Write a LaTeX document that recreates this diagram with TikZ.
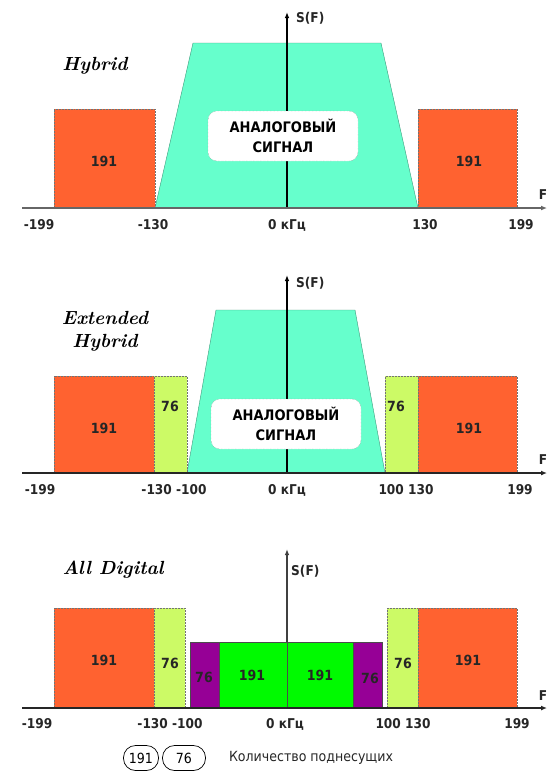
\documentclass[tikz,border=0pt]{standalone}
\usepackage{fontspec}
\newfontfamily\lab{DejaVu Sans}
\newfontfamily\labc{DejaVu Sans Condensed}
\usetikzlibrary{arrows.meta,fit}
\definecolor{orng}{RGB}{255,98,48}
\definecolor{tealc}{RGB}{102,255,204}
\definecolor{ygrn}{RGB}{204,250,102}
\definecolor{grn}{RGB}{0,250,0}
\definecolor{purp}{RGB}{150,0,150}
\tikzset{
  blk/.style={fit={#1}, inner sep=0pt, outer sep=0pt, draw=black!55, densely dotted, line width=0.5pt},
  lbl/.style={font=\labc\bfseries\fontsize{13.5}{15}\selectfont, inner sep=0pt, text=black!85},
  num/.style={font=\labc\bfseries\fontsize{14}{16}\selectfont, inner sep=0pt, text=black!85},
  title/.style={font=\bfseries\itshape\fontsize{19}{23}\selectfont, inner sep=0pt, align=center},
  haxis/.style={line width=1.6pt, -{Latex[length=6pt,width=5pt]}},
  vaxis/.style={line width=1.1pt, -{Latex[length=6pt,width=4.5pt]}},
  analog/.style={draw=black!45, densely dotted, fill=white, rounded corners=9pt, inner sep=0pt,
    minimum width=150pt, minimum height=50pt, align=center,
    font=\labc\bfseries\fontsize{14.5}{20}\selectfont},
  trap/.style={fill=tealc, draw=tealc!60!black, line width=0.4pt},
  leg/.style={draw=black, line width=0.7pt, rounded corners=12pt, inner sep=0pt, minimum height=25pt,
    font=\labc\fontsize{14}{16}\selectfont}
}
\begin{document}
\begin{tikzpicture}[x=1pt,y=-1pt]
\useasboundingbox (0,0) rectangle (547,771);
% ================= Panel 1: Hybrid =================
\node[title] (t1) at (95,66) {Hybrid};
\filldraw[trap] (155,208) -- (193,43) -- (381,43) -- (418,208) -- cycle;
\node[blk={(54,109) (155,208)}, fill=orng] (o1l) {};
\node[blk={(418,109) (517,208)}, fill=orng] (o1r) {};
\coordinate (v1b) at (287,208);
\coordinate (v1t) at (287,12);
\draw[vaxis] (v1b) -- (v1t);
\node[analog] (a1) at (283,136) {АНАЛОГОВЫЙ\\СИГНАЛ};
\coordinate (h1l) at (22,208);
\coordinate (h1r) at (547,208);
\draw[haxis, black!60] (h1l) -- (h1r);
\node[num] (n1a) at (104,161) {191};
\node[num] (n1b) at (469,161) {191};
\node[lbl, anchor=west] (s1) at (296,18) {S(F)};
\node[lbl] (f1) at (543,195) {F};
\node[lbl] (x1a) at (39,225) {-199};
\node[lbl] (x1b) at (153,225) {-130};
\node[lbl] (x1c) at (287,225) {0 кГц};
\node[lbl] (x1d) at (425,225) {130};
\node[lbl] (x1e) at (521,225) {199};
% ================= Panel 2: Extended Hybrid =================
\node[title] (t2) at (105,331) {Extended\\Hybrid};
\filldraw[trap] (187,473) -- (216,310) -- (355,310) -- (385,473) -- cycle;
\node[blk={(54,376) (154,473)}, fill=orng] (o2l) {};
\node[blk={(154,376) (187,473)}, fill=ygrn] (y2l) {};
\node[blk={(385,376) (418,473)}, fill=ygrn] (y2r) {};
\node[blk={(418,376) (517,473)}, fill=orng] (o2r) {};
\coordinate (v2b) at (287,473);
\coordinate (v2t) at (287,275);
\draw[vaxis] (v2b) -- (v2t);
\node[analog] (a2) at (286,424) {АНАЛОГОВЫЙ\\СИГНАЛ};
\coordinate (h2l) at (22,473);
\coordinate (h2r) at (547,473);
\draw[haxis, black!85] (h2l) -- (h2r);
\node[num] (n2a) at (104,428) {191};
\node[num] (n2b) at (469,428) {191};
\node[num] (n2c) at (170,406) {76};
\node[num] (n2d) at (396,406) {76};
\node[lbl, anchor=west] (s2) at (296,283) {S(F)};
\node[lbl] (f2) at (543,460) {F};
\node[lbl] (x2a) at (40,490) {-199};
\node[lbl] (x2b) at (174,490) {-130 -100};
\node[lbl] (x2c) at (287,490) {0 кГц};
\node[lbl] (x2d) at (406,490) {100 130};
\node[lbl] (x2e) at (520,490) {199};
% ================= Panel 3: All Digital =================
\node[title] (t3) at (113,570) {All Digital};
\node[blk={(54,608) (154,708)}, fill=orng] (o3l) {};
\node[blk={(154,608) (185,708)}, fill=ygrn] (y3l) {};
\node[blk={(190,642) (219,708)}, fill=purp, draw=black!70, solid] (p3l) {};
\node[blk={(219,642) (287,708)}, fill=grn, draw=black!70, solid] (g3l) {};
\node[blk={(287,642) (353,708)}, fill=grn, draw=black!70, solid] (g3r) {};
\node[blk={(353,642) (382,708)}, fill=purp, draw=black!70, solid] (p3r) {};
\node[blk={(387,608) (418,708)}, fill=ygrn] (y3r) {};
\node[blk={(418,608) (517,708)}, fill=orng] (o3r) {};
\coordinate (v3b) at (287,642);
\coordinate (v3t) at (287,549);
\draw[vaxis, black!75] (v3b) -- (v3t);
\coordinate (h3l) at (22,708);
\coordinate (h3r) at (547,708);
\draw[haxis, black!85] (h3l) -- (h3r);
\node[num] (n3a) at (104,660) {191};
\node[num] (n3b) at (170,663) {76};
\node[num] (n3c) at (204,677) {76};
\node[num] (n3d) at (252,675) {191};
\node[num] (n3e) at (320,675) {191};
\node[num] (n3f) at (370,678) {76};
\node[num] (n3g) at (403,663) {76};
\node[num] (n3h) at (468,660) {191};
\node[lbl, anchor=west] (s3) at (291,571) {S(F)};
\node[lbl] (f3) at (543,696) {F};
\node[lbl] (x3a) at (37,724) {-199};
\node[lbl] (x3b) at (170,724) {-130 -100};
\node[lbl] (x3c) at (285,724) {0 кГц};
\node[lbl] (x3d) at (403,724) {100 130};
\node[lbl] (x3e) at (517,724) {199};
% ================= Legend =================
\node[leg, minimum width=35pt] (k1) at (141,758) {191};
\node[leg, minimum width=43pt] (k2) at (184,758) {76};
\node[lbl, font=\labc\fontsize{14}{16}\selectfont] (k3) at (311,758) {Количество поднесущих};
\end{tikzpicture}
\end{document}
